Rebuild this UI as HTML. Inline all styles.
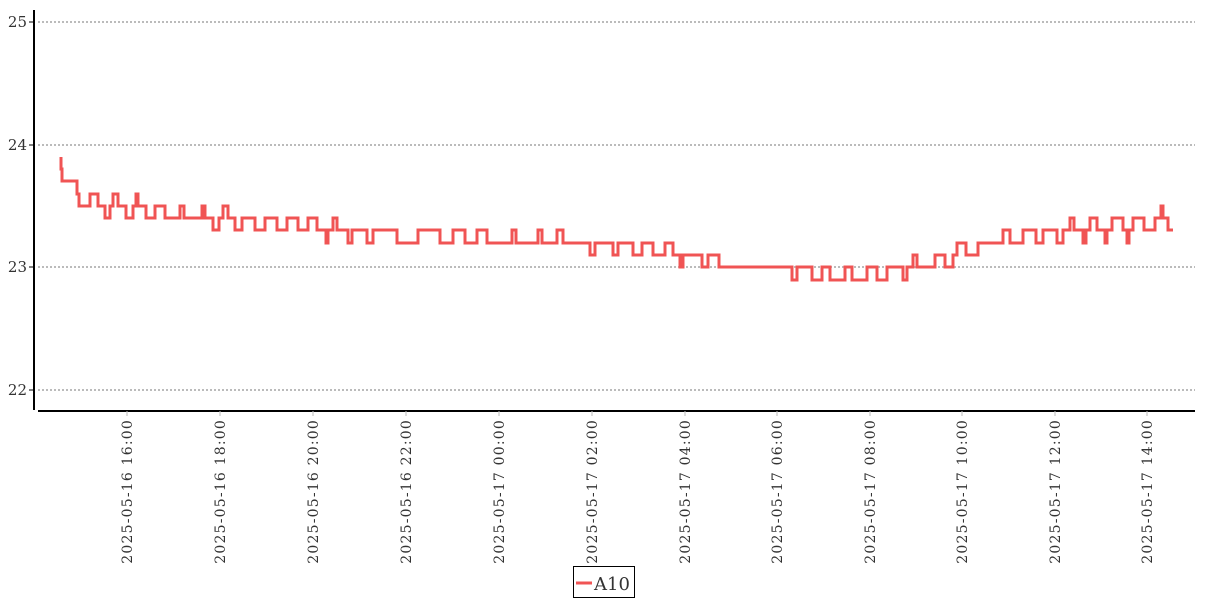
<!DOCTYPE html>
<html><head><meta charset="utf-8"><style>
html,body{margin:0;padding:0;background:#fff;}
svg{display:block;}
text{font-family:"DejaVu Serif","Liberation Serif",serif;fill:#333;}
</style></head><body>
<svg width="1207" height="600" viewBox="0 0 1207 600" xmlns="http://www.w3.org/2000/svg">
<g stroke="#777" stroke-width="1" stroke-dasharray="2,2">
<line x1="38" y1="22" x2="1195" y2="22"/>
<line x1="38" y1="145" x2="1195" y2="145"/>
<line x1="38" y1="267" x2="1195" y2="267"/>
<line x1="38" y1="390" x2="1195" y2="390"/>
</g>
<line x1="34" y1="10" x2="34" y2="410" stroke="#000" stroke-width="2"/>
<line x1="38" y1="411" x2="1195" y2="411" stroke="#000" stroke-width="2"/>
<g stroke="#000" stroke-width="1">
<line x1="29" y1="22" x2="34" y2="22"/><line x1="29" y1="145" x2="34" y2="145"/>
<line x1="29" y1="267" x2="34" y2="267"/><line x1="29" y1="390" x2="34" y2="390"/>
</g>
<g font-size="15" text-anchor="end">
<text x="27" y="27">25</text><text x="27" y="150">24</text>
<text x="27" y="272">23</text><text x="27" y="395">22</text>
</g>
<g font-size="14" text-anchor="end" letter-spacing="1.2" style="font-family:'Liberation Mono','DejaVu Sans Mono',monospace">
<text transform="translate(132,419) rotate(-90)">2025-05-16 16:00</text>
<text transform="translate(225,419) rotate(-90)">2025-05-16 18:00</text>
<text transform="translate(318,419) rotate(-90)">2025-05-16 20:00</text>
<text transform="translate(411,419) rotate(-90)">2025-05-16 22:00</text>
<text transform="translate(504,419) rotate(-90)">2025-05-17 00:00</text>
<text transform="translate(597,419) rotate(-90)">2025-05-17 02:00</text>
<text transform="translate(690,419) rotate(-90)">2025-05-17 04:00</text>
<text transform="translate(782,419) rotate(-90)">2025-05-17 06:00</text>
<text transform="translate(875,419) rotate(-90)">2025-05-17 08:00</text>
<text transform="translate(967,419) rotate(-90)">2025-05-17 10:00</text>
<text transform="translate(1060,419) rotate(-90)">2025-05-17 12:00</text>
<text transform="translate(1152,419) rotate(-90)">2025-05-17 14:00</text>
</g>
<g stroke="#bbb" stroke-width="1">
<line x1="127" y1="411" x2="127" y2="416"/><line x1="220" y1="411" x2="220" y2="416"/>
<line x1="313" y1="411" x2="313" y2="416"/><line x1="406" y1="411" x2="406" y2="416"/>
<line x1="499" y1="411" x2="499" y2="416"/><line x1="592" y1="411" x2="592" y2="416"/>
<line x1="685" y1="411" x2="685" y2="416"/><line x1="777" y1="411" x2="777" y2="416"/>
<line x1="870" y1="411" x2="870" y2="416"/><line x1="962" y1="411" x2="962" y2="416"/>
<line x1="1055" y1="411" x2="1055" y2="416"/><line x1="1147" y1="411" x2="1147" y2="416"/>
</g>
<path fill="none" stroke="#f05454" stroke-width="3" stroke-linejoin="miter" d="M61,157 V169 H62 V181 H77 V194 H79 V206 H90 V194 H98 V206 H105 V218 H110 V206 H113 V194 H118 V206 H126 V218 H133 V206 H136 V194 H138 V206 H146 V218 H155 V206 H165 V218 H180 V206 H184 V218 H202 V206 H205 V218 H213 V230 H219 V218 H223 V206 H228 V218 H235 V230 H242 V218 H255 V230 H265 V218 H277 V230 H287 V218 H298 V230 H308 V218 H317 V230 H326 V243 H328 V230 H333 V218 H337 V230 H348 V243 H352 V230 H367 V243 H373 V230 H397 V243 H418 V230 H440 V243 H453 V230 H465 V243 H477 V230 H487 V243 H512 V230 H516 V243 H538 V230 H542 V243 H557 V230 H563 V243 H590 V255 H595 V243 H613 V255 H618 V243 H633 V255 H642 V243 H653 V255 H665 V243 H673 V255 H680 V267 H683 V255 H702 V267 H708 V255 H719 V267 H792 V280 H797 V267 H812 V280 H822 V267 H830 V280 H845 V267 H852 V280 H867 V267 H877 V280 H887 V267 H903 V280 H907 V267 H913 V255 H917 V267 H935 V255 H945 V267 H953 V255 H957 V243 H966 V255 H978 V243 H1003 V230 H1010 V243 H1023 V230 H1036 V243 H1043 V230 H1057 V243 H1063 V230 H1070 V218 H1074 V230 H1083 V243 H1086 V230 H1090 V218 H1097 V230 H1105 V243 H1107 V230 H1112 V218 H1123 V230 H1127 V243 H1129 V230 H1133 V218 H1144 V230 H1155 V218 H1161 V206 H1163 V218 H1168 V230 H1173"/>
<rect x="573.5" y="566.5" width="61" height="31" fill="#fff" stroke="#000" stroke-width="1"/>
<line x1="576" y1="583" x2="592" y2="583" stroke="#f05454" stroke-width="3"/>
<text x="594" y="590" font-size="18">A10</text>
</svg>
</body></html>
